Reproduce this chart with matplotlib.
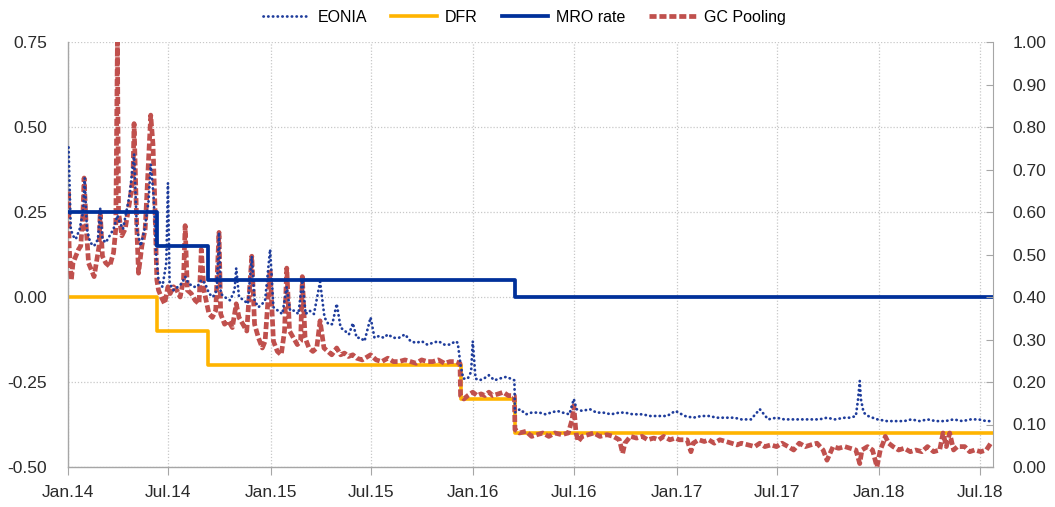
import numpy as np
import pandas as pd
import matplotlib
matplotlib.use("Agg")
import matplotlib.pyplot as plt
import matplotlib.dates as mdates

plt.rcParams['font.family'] = ['Liberation Sans', 'DejaVu Sans']

# EONIA (daily at irregular dates)
eonia_dates = [
    "2014-01-02", "2014-01-06", "2014-01-10", "2014-01-15", "2014-01-22", "2014-01-28", "2014-01-31",
    "2014-02-04", "2014-02-10", "2014-02-17", "2014-02-24", "2014-02-28",
    "2014-03-04", "2014-03-10", "2014-03-17", "2014-03-24", "2014-03-31",
    "2014-04-04", "2014-04-10", "2014-04-16", "2014-04-22", "2014-04-30",
    "2014-05-05", "2014-05-12", "2014-05-19", "2014-05-26", "2014-05-30",
    "2014-06-04", "2014-06-09", "2014-06-13", "2014-06-20", "2014-06-27", "2014-06-30",
    "2014-07-03", "2014-07-10", "2014-07-18", "2014-07-25", "2014-07-31",
    "2014-08-06", "2014-08-15", "2014-08-22", "2014-08-29",
    "2014-09-05", "2014-09-12", "2014-09-19", "2014-09-26", "2014-09-30",
    "2014-10-03", "2014-10-10", "2014-10-20", "2014-10-28", "2014-10-31",
    "2014-11-05", "2014-11-14", "2014-11-21", "2014-11-28",
    "2014-12-03", "2014-12-10", "2014-12-17", "2014-12-22", "2014-12-31",
    "2015-01-06", "2015-01-14", "2015-01-22", "2015-01-30",
    "2015-02-05", "2015-02-13", "2015-02-20", "2015-02-27",
    "2015-03-05", "2015-03-12", "2015-03-20", "2015-03-31",
    "2015-04-08", "2015-04-15", "2015-04-22", "2015-04-30",
    "2015-05-07", "2015-05-15", "2015-05-22", "2015-05-29",
    "2015-06-05", "2015-06-12", "2015-06-19", "2015-06-30",
    "2015-07-07", "2015-07-15", "2015-07-24", "2015-07-31",
    "2015-08-10", "2015-08-20", "2015-08-31",
    "2015-09-10", "2015-09-20", "2015-09-30",
    "2015-10-10", "2015-10-20", "2015-10-30",
    "2015-11-10", "2015-11-20", "2015-11-30",
    "2015-12-04", "2015-12-09", "2015-12-14", "2015-12-22", "2015-12-28", "2015-12-31",
    "2016-01-05", "2016-01-12", "2016-01-20", "2016-01-29",
    "2016-02-08", "2016-02-17", "2016-02-29",
    "2016-03-08", "2016-03-15", "2016-03-16", "2016-03-25",
    "2016-04-05", "2016-04-15", "2016-04-29",
    "2016-05-10", "2016-05-20", "2016-05-31",
    "2016-06-10", "2016-06-22", "2016-06-30",
    "2016-07-05", "2016-07-15", "2016-07-29",
    "2016-08-10", "2016-08-22", "2016-09-05", "2016-09-20", "2016-09-30",
    "2016-10-14", "2016-10-31", "2016-11-15", "2016-11-30", "2016-12-15", "2016-12-30",
    "2017-01-16", "2017-01-31", "2017-02-15", "2017-02-28", "2017-03-15", "2017-03-31",
    "2017-04-15", "2017-04-28", "2017-05-15", "2017-05-31", "2017-06-15", "2017-06-30",
    "2017-07-14", "2017-07-31", "2017-08-15", "2017-08-31", "2017-09-15", "2017-09-29",
    "2017-10-13", "2017-10-31", "2017-11-10", "2017-11-20", "2017-11-24", "2017-11-27",
    "2017-11-29", "2017-12-04", "2017-12-12", "2017-12-20", "2017-12-29",
    "2018-01-15", "2018-01-31", "2018-02-15", "2018-02-28", "2018-03-15", "2018-03-29",
    "2018-04-13", "2018-04-30", "2018-05-15", "2018-05-31", "2018-06-15", "2018-06-29",
    "2018-07-13", "2018-07-23",
]
eonia_vals = [
    0.44, 0.20, 0.18, 0.17, 0.20, 0.25, 0.35,
    0.20, 0.16, 0.15, 0.17, 0.26,
    0.17, 0.16, 0.18, 0.20, 0.24,
    0.22, 0.20, 0.25, 0.30, 0.42,
    0.20, 0.15, 0.20, 0.28, 0.39,
    0.30, 0.12, 0.05, 0.03, 0.10, 0.335,
    0.04, 0.02, 0.03, 0.04, 0.06,
    0.04, 0.03, 0.03, 0.05,
    0.04, 0.01, 0.00, 0.02, 0.19,
    0.01, 0.00, -0.01, 0.02, 0.085,
    0.00, -0.01, -0.02, 0.12,
    -0.01, -0.03, -0.02, -0.01, 0.14,
    -0.03, -0.04, -0.05, 0.03,
    -0.04, -0.04, -0.05, 0.05,
    -0.05, -0.04, -0.05, 0.045,
    -0.06, -0.08, -0.08, -0.02,
    -0.09, -0.10, -0.11, -0.077,
    -0.12, -0.12, -0.13, -0.06,
    -0.12, -0.115, -0.12, -0.11,
    -0.12, -0.12, -0.11,
    -0.13, -0.135, -0.13,
    -0.14, -0.135, -0.13,
    -0.14, -0.14, -0.13,
    -0.135, -0.20, -0.24, -0.24, -0.22, -0.13,
    -0.24, -0.245, -0.24, -0.23,
    -0.245, -0.24, -0.235,
    -0.24, -0.245, -0.34, -0.33,
    -0.345, -0.34, -0.34,
    -0.345, -0.34, -0.335,
    -0.34, -0.345, -0.30,
    -0.33, -0.335, -0.33,
    -0.34, -0.34, -0.345, -0.34, -0.34,
    -0.345, -0.345, -0.35, -0.35, -0.35, -0.335,
    -0.35, -0.355, -0.35, -0.35, -0.355, -0.355,
    -0.355, -0.36, -0.36, -0.33, -0.36, -0.355,
    -0.36, -0.36, -0.36, -0.36, -0.36, -0.355,
    -0.36, -0.355, -0.355, -0.35, -0.30, -0.247,
    -0.30, -0.34, -0.35, -0.355, -0.36,
    -0.365, -0.365, -0.365, -0.36, -0.365, -0.36,
    -0.365, -0.365, -0.36, -0.365, -0.36, -0.36,
    -0.365, -0.365,
]

# GC Pooling overnight rate
gc_dates = [
    "2014-01-02", "2014-01-03", "2014-01-07", "2014-01-10", "2014-01-15", "2014-01-20", "2014-01-24",
    "2014-01-28", "2014-01-30",
    "2014-02-03", "2014-02-07", "2014-02-12", "2014-02-17", "2014-02-21", "2014-02-26", "2014-02-28",
    "2014-03-04", "2014-03-10", "2014-03-17", "2014-03-24", "2014-03-28", "2014-03-31",
    "2014-04-02", "2014-04-08", "2014-04-14", "2014-04-22", "2014-04-28", "2014-04-30",
    "2014-05-05", "2014-05-08", "2014-05-14", "2014-05-20", "2014-05-26", "2014-05-30",
    "2014-06-03", "2014-06-06", "2014-06-10", "2014-06-13", "2014-06-18", "2014-06-24", "2014-06-30",
    "2014-07-04", "2014-07-10", "2014-07-16", "2014-07-22", "2014-07-28", "2014-07-31",
    "2014-08-04", "2014-08-11", "2014-08-18", "2014-08-25", "2014-08-29",
    "2014-09-03", "2014-09-08", "2014-09-12", "2014-09-18", "2014-09-24", "2014-09-30",
    "2014-10-03", "2014-10-10", "2014-10-17", "2014-10-24", "2014-10-31",
    "2014-11-05", "2014-11-12", "2014-11-19", "2014-11-28",
    "2014-12-03", "2014-12-10", "2014-12-17", "2014-12-22", "2014-12-31",
    "2015-01-06", "2015-01-13", "2015-01-20", "2015-01-26", "2015-01-30",
    "2015-02-04", "2015-02-11", "2015-02-18", "2015-02-24", "2015-02-27",
    "2015-03-04", "2015-03-11", "2015-03-18", "2015-03-25", "2015-03-31",
    "2015-04-07", "2015-04-14", "2015-04-21", "2015-04-30",
    "2015-05-07", "2015-05-14", "2015-05-21", "2015-05-29",
    "2015-06-05", "2015-06-15", "2015-06-30",
    "2015-07-10", "2015-07-20", "2015-07-31",
    "2015-08-10", "2015-08-20", "2015-08-31",
    "2015-09-10", "2015-09-20", "2015-09-30",
    "2015-10-10", "2015-10-20", "2015-10-30",
    "2015-11-10", "2015-11-20", "2015-11-30",
    "2015-12-08", "2015-12-09", "2015-12-15", "2015-12-22", "2015-12-31",
    "2016-01-08", "2016-01-15", "2016-01-22", "2016-01-29",
    "2016-02-05", "2016-02-15", "2016-02-24",
    "2016-03-04", "2016-03-15", "2016-03-16", "2016-03-24",
    "2016-04-05", "2016-04-15", "2016-04-25",
    "2016-05-05", "2016-05-16", "2016-05-27",
    "2016-06-08", "2016-06-20", "2016-06-27", "2016-06-30",
    "2016-07-04", "2016-07-08", "2016-07-15", "2016-07-26",
    "2016-08-05", "2016-08-16", "2016-08-29",
    "2016-09-09", "2016-09-20", "2016-09-26", "2016-09-30",
    "2016-10-10", "2016-10-21", "2016-10-31",
    "2016-11-10", "2016-11-21", "2016-11-30",
    "2016-12-09", "2016-12-20", "2016-12-30",
    "2017-01-06", "2017-01-13", "2017-01-20", "2017-01-27", "2017-01-31",
    "2017-02-10", "2017-02-20", "2017-02-28",
    "2017-03-10", "2017-03-20", "2017-03-31",
    "2017-04-10", "2017-04-20", "2017-04-28",
    "2017-05-10", "2017-05-22", "2017-05-31",
    "2017-06-09", "2017-06-20", "2017-06-30",
    "2017-07-10", "2017-07-21", "2017-07-31",
    "2017-08-10", "2017-08-21", "2017-08-31",
    "2017-09-11", "2017-09-22", "2017-09-29",
    "2017-10-10", "2017-10-20", "2017-10-31",
    "2017-11-10", "2017-11-20", "2017-11-27",
    "2017-12-01", "2017-12-11", "2017-12-20", "2017-12-28",
    "2018-01-03", "2018-01-08", "2018-01-12", "2018-01-18", "2018-01-26",
    "2018-02-05", "2018-02-15", "2018-02-26",
    "2018-03-08", "2018-03-19", "2018-03-29",
    "2018-04-09", "2018-04-20", "2018-04-26",
    "2018-05-02", "2018-05-08", "2018-05-15", "2018-05-22", "2018-05-29",
    "2018-06-04", "2018-06-13", "2018-06-22",
    "2018-07-03", "2018-07-13", "2018-07-23",
]
gc_vals = [
    0.31, 0.15, 0.05, 0.10, 0.12, 0.14, 0.15,
    0.25, 0.35,
    0.20, 0.10, 0.08, 0.06, 0.10, 0.15, 0.25,
    0.12, 0.10, 0.09, 0.13, 0.20, 0.75,
    0.25, 0.18, 0.20, 0.28, 0.35, 0.51,
    0.20, 0.07, 0.15, 0.20, 0.40, 0.535,
    0.45, 0.30, 0.05, 0.02, 0.00, -0.02, 0.03,
    0.01, 0.03, 0.02, 0.00, 0.05, 0.21,
    0.02, 0.01, -0.01, -0.02, 0.14,
    0.02, -0.02, -0.05, -0.06, -0.04, 0.19,
    -0.05, -0.08, -0.07, -0.09, -0.02,
    -0.06, -0.08, -0.10, 0.12,
    -0.08, -0.12, -0.15, -0.13, 0.08,
    -0.13, -0.16, -0.17, -0.10, 0.085,
    -0.10, -0.12, -0.14, -0.13, 0.06,
    -0.12, -0.15, -0.16, -0.15, -0.07,
    -0.15, -0.16, -0.17, -0.15,
    -0.17, -0.165, -0.175, -0.17,
    -0.18, -0.185, -0.17,
    -0.185, -0.19, -0.18,
    -0.19, -0.19, -0.185,
    -0.19, -0.195, -0.185,
    -0.19, -0.19, -0.185,
    -0.195, -0.19, -0.19,
    -0.195, -0.29, -0.30, -0.29, -0.28,
    -0.29, -0.285, -0.29, -0.28,
    -0.29, -0.285, -0.28,
    -0.29, -0.29, -0.39, -0.40,
    -0.395, -0.41, -0.405,
    -0.40, -0.41, -0.40,
    -0.405, -0.40, -0.36, -0.32,
    -0.40, -0.425, -0.41, -0.405,
    -0.40, -0.41, -0.405,
    -0.41, -0.42, -0.46, -0.43,
    -0.41, -0.415, -0.41,
    -0.42, -0.415, -0.42,
    -0.41, -0.42, -0.415,
    -0.42, -0.42, -0.42, -0.455, -0.43,
    -0.42, -0.425, -0.42,
    -0.43, -0.42, -0.425,
    -0.43, -0.435, -0.43,
    -0.435, -0.44, -0.43,
    -0.44, -0.435, -0.44,
    -0.43, -0.44, -0.45,
    -0.43, -0.44, -0.435,
    -0.43, -0.45, -0.48,
    -0.44, -0.445, -0.44,
    -0.445, -0.45, -0.49,
    -0.45, -0.44, -0.45, -0.50,
    -0.45, -0.43, -0.41, -0.43, -0.44,
    -0.45, -0.445, -0.455,
    -0.45, -0.455, -0.44,
    -0.455, -0.45, -0.40,
    -0.44, -0.40, -0.45, -0.44, -0.44,
    -0.44, -0.455, -0.45,
    -0.455, -0.45, -0.425,
]

# policy rates (step changes)
rate_dates = ["2014-01-01", "2014-06-11", "2014-09-10", "2015-12-09", "2016-03-16", "2018-07-25"]
dfr_vals = [0.00, -0.10, -0.20, -0.30, -0.40, -0.40]
mro_vals = [0.25, 0.15, 0.05, 0.05, 0.00, 0.00]

x_start, x_end = "2014-01-01", "2018-07-25"

fig = plt.figure(figsize=(10.55, 5.07), dpi=100)
ax = fig.add_axes([68 / 1055, 1 - 467 / 507, (993 - 68) / 1055, (467 - 42) / 507])

grey = "#a6a6a6"
ax.plot(pd.to_datetime(rate_dates), dfr_vals, drawstyle="steps-post", color="#ffb400", lw=2.6, zorder=2, label="DFR")
ax.plot(pd.to_datetime(gc_dates), gc_vals, color="#c0504d", lw=3.4, ls=(0, (1.5, 0.6)), zorder=3, label="GC Pooling")
ax.plot(pd.to_datetime(eonia_dates), eonia_vals, color="#1f3d9c", lw=2.0, ls=(0, (0.1, 1.6)),
        dash_capstyle="round", zorder=4, label="EONIA")
ax.plot(pd.to_datetime(rate_dates), mro_vals, drawstyle="steps-post", color="#00309a", lw=2.7, zorder=5, label="MRO rate")

ax.set_xlim(pd.Timestamp(x_start), pd.Timestamp(x_end))
ax.set_ylim(-0.5, 0.75)
ax.set_yticks(np.arange(-0.5, 0.76, 0.25))
ax.yaxis.set_major_formatter(matplotlib.ticker.FormatStrFormatter("%.2f"))

ticks = pd.date_range("2014-01-01", "2018-07-01", freq="6MS")
ax.set_xticks(ticks)
ax.set_xticklabels([t.strftime("%b.%y") for t in ticks])

ax.grid(True, color="#c8c8c8", ls=(0, (1, 1.5)), lw=0.9)
ax.set_axisbelow(True)
for s in ["top", "right"]:
    ax.spines[s].set_visible(False)
for s in ["left", "bottom"]:
    ax.spines[s].set_color(grey)
    ax.spines[s].set_linewidth(1.0)
ax.tick_params(axis="y", length=0, pad=15, labelsize=12.5, labelcolor="#2b2b2b")
ax.tick_params(axis="x", length=6, color=grey, direction="out", pad=7, labelsize=12.5, labelcolor="#2b2b2b")

ax2 = ax.twinx()
ax2.set_ylim(0, 1.0)
ax2.set_yticks(np.arange(0, 1.01, 0.1))
ax2.yaxis.set_major_formatter(matplotlib.ticker.FormatStrFormatter("%.2f"))
for s in ["top", "left", "bottom"]:
    ax2.spines[s].set_visible(False)
ax2.spines["right"].set_color(grey)
ax2.tick_params(axis="y", direction="in", length=5, color=grey, pad=14, labelsize=12.5, labelcolor="#2b2b2b")

handles, labels = ax.get_legend_handles_labels()
order = ["EONIA", "DFR", "MRO rate", "GC Pooling"]
hmap = dict(zip(labels, handles))
fig.legend([hmap[k] for k in order], order, loc="center", bbox_to_anchor=(0.497, 0.966), ncol=4,
           frameon=False, fontsize=11.5, handlelength=2.9, columnspacing=1.5, handletextpad=0.5)

fig.savefig("out.png", dpi=100)
